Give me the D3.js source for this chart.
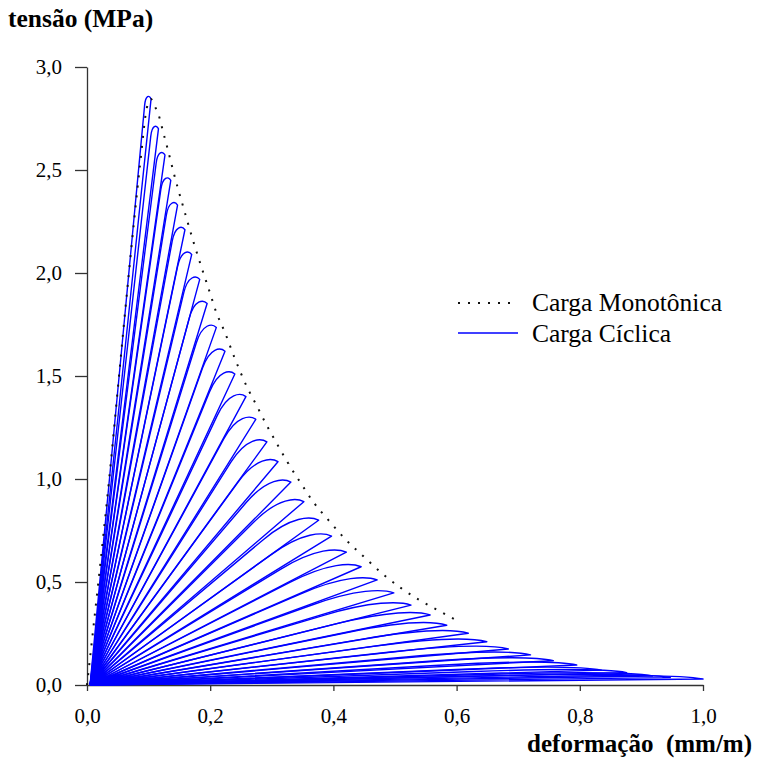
<!DOCTYPE html>
<html>
<head>
<meta charset="utf-8">
<script src="https://cdn.jsdelivr.net/npm/d3@7"></script>
<style>
  body { margin: 0; background: #fff; }
  svg { display: block; font-family: "Liberation Serif", "Times New Roman", serif; }
  .axis path, .axis line { stroke: #333; stroke-width: 1.3; }
</style>
</head>
<body>
<div id="chart"></div>
<script>
// monotonic load curve (envelope), strain mm/m vs stress MPa
const monoX = [0, 0.036, 0.067, 0.087, 0.097, 0.104, 0.109, 0.116, 0.124, 0.132, 0.140, 0.148, 0.157, 0.166, 0.175,
  0.185, 0.200, 0.210, 0.223, 0.240, 0.260, 0.276, 0.292, 0.309, 0.327, 0.346, 0.367, 0.392, 0.419, 0.450,
  0.479, 0.510, 0.541, 0.572, 0.601];
const monoY = [0, 1.00, 1.97, 2.55, 2.80, 2.845, 2.815, 2.77, 2.68, 2.59, 2.495, 2.406, 2.313, 2.22, 2.13,
  2.036, 1.90, 1.808, 1.718, 1.585, 1.445, 1.353, 1.259, 1.168, 1.074, 0.985, 0.89, 0.80, 0.709, 0.621,
  0.542, 0.47, 0.41, 0.359, 0.312];

// cyclic load: tip (unloading point) of every loop
const tipX = [0.104, 0.116, 0.1266, 0.136, 0.147, 0.159, 0.170, 0.183, 0.195, 0.210, 0.224, 0.240, 0.258, 0.274,
  0.292, 0.310, 0.331, 0.352, 0.376, 0.397, 0.421, 0.445, 0.471, 0.498, 0.526, 0.557, 0.584, 0.619, 0.649,
  0.684, 0.720, 0.757, 0.795, 0.835, 0.876, 0.918, 0.947, 1.0];
const tipY = [2.845, 2.70, 2.573, 2.45, 2.33, 2.21, 2.09, 1.969, 1.852, 1.736, 1.62, 1.51, 1.40, 1.29,
  1.18, 1.084, 0.985, 0.89, 0.80, 0.723, 0.645, 0.574, 0.51, 0.447, 0.388, 0.34, 0.29, 0.251, 0.21,
  0.175, 0.146, 0.118, 0.097, 0.072, 0.06, 0.044, 0.036, 0.029];
const residual = 0.005;

const xTicks = [0, 0.2, 0.4, 0.6, 0.8, 1.0];
const yTicks = [0, 0.5, 1.0, 1.5, 2.0, 2.5, 3.0];

const width = 762, height = 778;
const serif = '"Liberation Serif", "Times New Roman", serif';
const svg = d3.select("#chart").append("svg")
  .attr("width", width)
  .attr("height", height);

const x = d3.scaleLinear().domain([0, 1]).range([87, 703]);
const y = d3.scaleLinear().domain([0, 3]).range([685, 67]);
const fmt = d => d3.format(".1f")(d).replace(".", ",");

/* ------------------ axes ------------------ */
const yAxis = svg.append("g")
  .attr("class", "axis")
  .attr("transform", "translate(87,0)")
  .call(d3.axisLeft(y).tickValues(yTicks).tickSize(12).tickSizeOuter(0).tickPadding(13).tickFormat(fmt));

const xAxis = svg.append("g")
  .attr("class", "axis")
  .attr("transform", "translate(0,685)")
  .call(d3.axisBottom(x).tickValues(xTicks).tickSize(6).tickSizeOuter(0).tickPadding(17).tickFormat(fmt));

[yAxis, xAxis].forEach(g => {
  g.attr("font-family", serif).attr("font-size", 21);
  g.selectAll("text")
    .style("font-family", serif)
    .style("font-size", "21px")
    .attr("fill", "#000");
});

/* ------------------ cyclic loops ------------------ */
function loopPath(xt, yt) {
  const p = d3.path();
  const w = 0.13 * (xt - residual) - 0.004;
  const R = [x(residual), y(0)];
  const K = [x(xt - w), y(yt + 0.02)];
  const T = [x(xt), y(yt)];
  const dx = K[0] - R[0], dy = K[1] - R[1];
  const len = Math.hypot(dx, dy);
  const d = Math.min(len * 0.5, 4 + 1.2 * (T[0] - K[0]));
  const A = [K[0] - dx / len * d, K[1] - dy / len * d];
  p.moveTo(R[0], R[1]);
  p.lineTo(A[0], A[1]);
  p.bezierCurveTo(K[0], K[1], T[0] - 0.3 * (T[0] - K[0]), K[1], T[0], T[1]);
  p.lineTo(R[0], R[1]);
  return p.toString();
}

svg.append("g")
  .selectAll("path")
  .data(d3.range(tipX.length))
  .enter()
  .append("path")
  .attr("d", i => loopPath(tipX[i], tipY[i]))
  .attr("fill", "none")
  .attr("stroke", "#0000ff")
  .attr("stroke-width", 1.4)
  .attr("stroke-linejoin", "round");

/* ------------------ monotonic ------------------ */
const mono = d3.line()
  .x(i => x(monoX[i]))
  .y(i => y(monoY[i]))
  .curve(d3.curveMonotoneX);

svg.append("path")
  .attr("d", mono(d3.range(monoX.length)))
  .attr("fill", "none")
  .attr("stroke", "#111")
  .attr("stroke-width", 2)
  .attr("stroke-dasharray", "2,8");

/* ------------------ legend ------------------ */
const legend = svg.append("g").style("font-size", "25.5px");
legend.append("line")
  .attr("x1", 458).attr("x2", 518).attr("y1", 303).attr("y2", 303)
  .attr("stroke", "#111").attr("stroke-width", 2).attr("stroke-dasharray", "2,8");
legend.append("line")
  .attr("x1", 458).attr("x2", 518).attr("y1", 333).attr("y2", 333)
  .attr("stroke", "#0000ff").attr("stroke-width", 1.4);
legend.append("text").attr("x", 532).attr("y", 311).text("Carga Monotônica");
legend.append("text").attr("x", 532).attr("y", 342).text("Carga Cíclica");

/* ------------------ titles ------------------ */
svg.append("text")
  .attr("x", 8).attr("y", 27)
  .style("font-size", "25.5px").style("font-weight", "bold")
  .text("tensão (MPa)");

svg.append("text")
  .attr("x", 752).attr("y", 752)
  .attr("text-anchor", "end")
  .style("font-size", "25px").style("font-weight", "bold")
  .style("white-space", "pre")
  .text("deformação  (mm/m)");
</script>
</body>
</html>
